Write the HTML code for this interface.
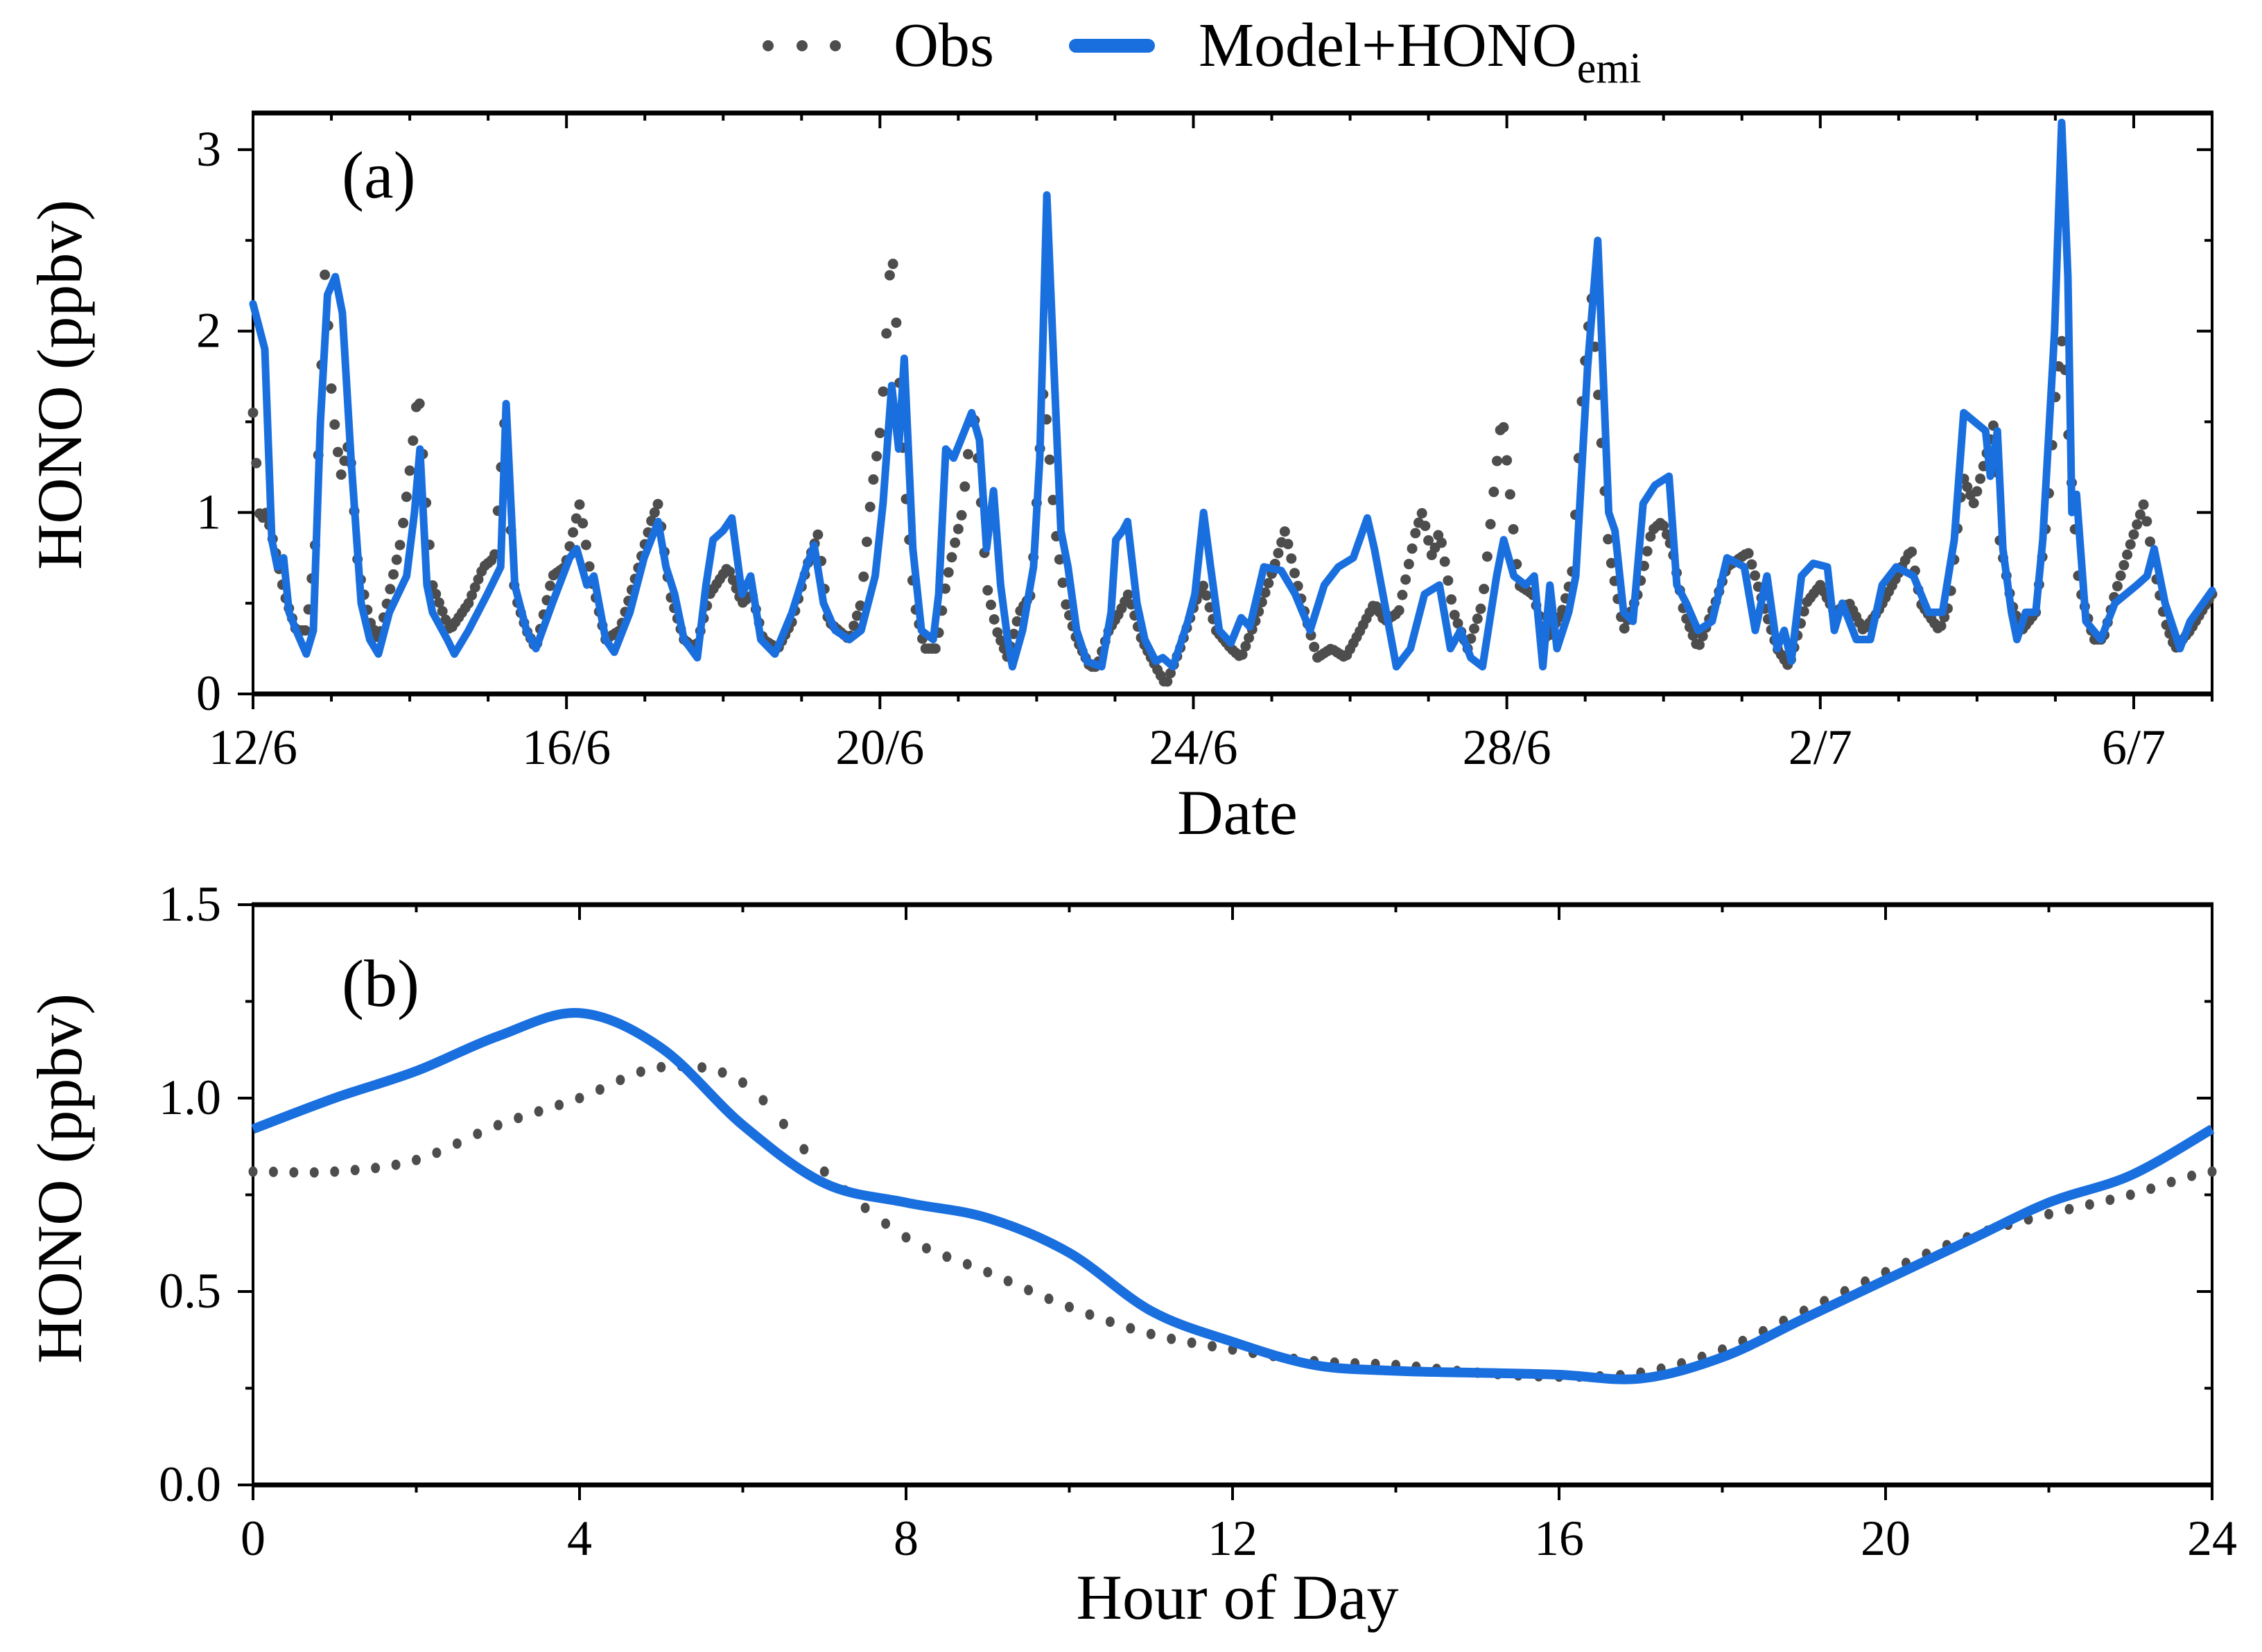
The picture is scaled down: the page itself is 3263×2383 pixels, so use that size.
<!DOCTYPE html>
<html><head><meta charset="utf-8"><style>
html,body{margin:0;padding:0;background:#fff;}
svg{display:block;font-family:"Liberation Serif",serif;}
</style></head><body>
<svg id="fig" width="3263" height="2383" viewBox="0 0 3263 2383" xmlns="http://www.w3.org/2000/svg">
<rect width="3263" height="2383" fill="#fff"/>
<g>
  <g>
    <circle cx="1108" cy="66" r="8" fill="#4d4d4d"/><circle cx="1157" cy="66" r="8" fill="#4d4d4d"/><circle cx="1205" cy="66" r="8" fill="#4d4d4d"/>
    <text x="1289" y="95" font-size="90" fill="#000">Obs</text>
  </g>
  <g>
    <line x1="1552" y1="66" x2="1656" y2="66" stroke="#1a6fdf" stroke-width="20" stroke-linecap="round"/>
    <text x="1729" y="95" font-size="90" fill="#000">Model+HONO<tspan font-size="62" dy="24">emi</tspan></text>
  </g>
</g>
<g id="pa"></g>
<g id="pb"></g>
</svg>
<script>
// ---------- Panel (a) data: time in days since 12/6 00:00 ----------
const aModelT = [0,0.15,0.24,0.31,0.39,0.46,0.55,0.68,0.77,0.86,0.95,1.05,1.14,1.25,1.38,1.49,1.60,1.74,1.96,2.06,2.13,2.22,2.29,2.48,2.57,2.75,2.99,3.16,3.23,3.34,3.49,3.61,3.82,4.04,4.13,4.26,4.35,4.50,4.61,4.81,4.99,5.17,5.27,5.38,5.50,5.67,5.78,5.87,6.00,6.11,6.24,6.35,6.48,6.66,6.88,7.06,7.16,7.28,7.43,7.61,7.76,7.94,8.04,8.15,8.24,8.31,8.42,8.53,8.68,8.75,8.84,8.94,9.08,9.17,9.27,9.36,9.45,9.54,9.63,9.69,9.82,9.96,10.04,10.13,10.22,10.31,10.40,10.51,10.64,10.83,10.95,11.01,11.10,11.16,11.28,11.38,11.52,11.61,11.74,11.93,12.02,12.13,12.22,12.33,12.48,12.61,12.72,12.90,13.12,13.30,13.49,13.67,13.85,14.04,14.22,14.31,14.44,14.59,14.77,14.95,15.14,15.28,15.41,15.54,15.69,15.87,15.96,16.09,16.24,16.35,16.46,16.55,16.64,16.79,16.88,17.03,17.16,17.30,17.38,17.49,17.61,17.74,17.89,18.07,18.17,18.29,18.44,18.62,18.81,19.03,19.17,19.32,19.45,19.54,19.63,19.76,19.91,20.09,20.18,20.28,20.46,20.64,20.79,20.97,21.19,21.38,21.56,21.71,21.83,22.11,22.17,22.26,22.33,22.44,22.51,22.62,22.75,22.84,22.99,23.08,23.16,23.21,23.27,23.39,23.58,23.76,24.04,24.17,24.26,24.40,24.59,24.72,25.0];
const aModelV = [2.15,1.9,0.85,0.7,0.75,0.45,0.35,0.22,0.35,1.5,2.2,2.3,2.1,1.3,0.5,0.3,0.22,0.45,0.65,1.0,1.35,0.6,0.45,0.3,0.22,0.35,0.55,0.7,1.6,0.6,0.35,0.25,0.5,0.75,0.8,0.6,0.65,0.3,0.23,0.45,0.75,0.95,0.7,0.55,0.3,0.2,0.6,0.85,0.9,0.97,0.55,0.65,0.3,0.22,0.45,0.7,0.82,0.5,0.35,0.3,0.35,0.65,1.05,1.7,1.35,1.85,0.8,0.35,0.3,0.55,1.35,1.3,1.45,1.55,1.4,0.8,1.12,0.6,0.3,0.15,0.35,0.7,1.3,2.75,1.8,0.9,0.7,0.35,0.18,0.15,0.45,0.85,0.9,0.95,0.5,0.3,0.18,0.2,0.15,0.4,0.55,1.0,0.7,0.35,0.28,0.42,0.37,0.7,0.68,0.55,0.35,0.6,0.7,0.75,0.97,0.8,0.5,0.15,0.25,0.55,0.6,0.25,0.35,0.2,0.15,0.65,0.85,0.65,0.6,0.65,0.15,0.6,0.25,0.45,0.65,1.8,2.5,1.0,0.9,0.45,0.4,1.05,1.15,1.2,0.6,0.5,0.35,0.4,0.75,0.7,0.35,0.65,0.25,0.35,0.18,0.65,0.72,0.7,0.35,0.5,0.3,0.3,0.6,0.7,0.65,0.45,0.45,0.85,1.55,1.45,1.2,1.45,0.8,0.45,0.3,0.45,0.45,0.85,2.0,3.15,2.3,1.0,1.1,0.4,0.3,0.5,0.6,0.65,0.8,0.5,0.25,0.4,0.57];
const aObsT = [0,0.09,0.17,0.28,0.40,0.55,0.68,0.79,0.92,1.01,1.12,1.23,1.34,1.49,1.60,1.71,1.89,2.02,2.11,2.20,2.29,2.51,2.75,2.94,3.08,3.21,3.34,3.49,3.61,3.82,3.98,4.17,4.31,4.50,4.68,4.92,5.08,5.17,5.32,5.50,5.65,5.83,6.06,6.24,6.37,6.51,6.70,6.88,7.10,7.21,7.34,7.61,7.76,7.89,8.02,8.15,8.24,8.31,8.44,8.57,8.72,8.84,8.94,9.05,9.19,9.27,9.36,9.49,9.63,9.78,9.93,10.09,10.24,10.37,10.51,10.68,10.77,10.92,11.06,11.17,11.34,11.52,11.65,11.83,12.02,12.13,12.29,12.48,12.61,12.79,13.03,13.17,13.30,13.45,13.58,13.76,13.94,14.13,14.31,14.44,14.62,14.84,14.92,15.05,15.14,15.32,15.50,15.69,15.83,15.94,16.02,16.15,16.33,16.51,16.70,16.83,16.97,17.08,17.19,17.30,17.49,17.67,17.85,17.98,18.11,18.26,18.44,18.66,18.81,19.08,19.27,19.45,19.60,19.82,20.00,20.18,20.37,20.55,20.73,20.92,21.16,21.28,21.52,21.65,21.82,21.96,22.11,22.22,22.29,22.44,22.57,22.75,22.90,23.01,23.10,23.17,23.30,23.49,23.61,23.76,23.94,24.13,24.26,24.40,24.53,24.72,25.0];
const aObsV = [1.55,0.95,1.0,0.8,0.55,0.35,0.35,0.8,2.35,1.6,1.2,1.4,0.7,0.4,0.3,0.5,0.85,1.3,1.7,1.1,0.6,0.35,0.5,0.7,0.75,1.5,0.55,0.35,0.25,0.65,0.7,1.05,0.65,0.3,0.35,0.7,0.95,1.05,0.55,0.3,0.25,0.55,0.7,0.5,0.55,0.3,0.25,0.4,0.75,0.88,0.4,0.3,0.5,1.1,1.5,2.5,1.8,1.2,0.5,0.25,0.25,0.6,0.8,1.0,1.6,1.2,0.6,0.35,0.2,0.45,0.55,1.7,0.9,0.5,0.3,0.15,0.15,0.35,0.45,0.55,0.3,0.15,0.05,0.25,0.5,0.6,0.35,0.25,0.2,0.4,0.7,0.9,0.65,0.4,0.2,0.25,0.2,0.35,0.5,0.4,0.45,0.9,1.0,0.75,0.9,0.45,0.25,0.5,1.1,1.55,1.2,0.6,0.55,0.3,0.45,0.65,1.7,2.2,1.5,0.8,0.35,0.55,0.9,0.95,0.8,0.45,0.25,0.5,0.7,0.78,0.5,0.25,0.15,0.5,0.6,0.45,0.5,0.35,0.45,0.6,0.8,0.5,0.35,0.5,1.2,1.05,1.3,1.5,0.85,0.5,0.35,0.45,1.0,1.7,2.0,1.4,0.6,0.3,0.3,0.55,0.8,1.05,0.7,0.4,0.25,0.35,0.55];
const aXTickLabels = ["12/6","16/6","20/6","24/6","28/6","2/7","6/7"];
const aYTickLabels = ["0","1","2","3"];

// ---------- Panel (b) data: hour of day ----------
const bHours = [0,1,2,3,4,5,6,7,8,9,10,11,12,13,14,15,16,17,18,19,20,21,22,23,24];
const bModel = [0.92,1.0,1.07,1.16,1.22,1.13,0.93,0.78,0.73,0.69,0.6,0.45,0.37,0.31,0.295,0.29,0.285,0.275,0.33,0.43,0.53,0.63,0.73,0.8,0.92];
const bObs = [0.81,0.81,0.84,0.93,1.0,1.08,1.04,0.81,0.64,0.55,0.46,0.39,0.35,0.32,0.31,0.29,0.28,0.29,0.35,0.45,0.55,0.64,0.7,0.75,0.81];
const bXTickLabels = ["0","4","8","12","16","20","24"];
const bYTickLabels = ["0.0","0.5","1.0","1.5"];

const NS = "http://www.w3.org/2000/svg";
function mk(tag, attrs, parent){const e=document.createElementNS(NS,tag);for(const k in attrs)e.setAttribute(k,attrs[k]);parent.appendChild(e);return e;}

const L=365, R=3191;
const ax = {xa:d=>L+(R-L)*d/25, ya:v=>1001-v*261.7, xb:h=>L+(R-L)*h/24, yb:v=>2142-v*558};

function interpLin(T,V,t){for(let i=0;i<T.length-1;i++){if(t<=T[i+1]){const f=(t-T[i])/(T[i+1]-T[i]);return V[i]+f*(V[i+1]-V[i]);}}return V[V.length-1];}
function catmull(P){let d="M"+P[0][0]+","+P[0][1];for(let i=0;i<P.length-1;i++){const p0=P[Math.max(i-1,0)],p1=P[i],p2=P[i+1],p3=P[Math.min(i+2,P.length-1)];
 d+=" C"+(p1[0]+(p2[0]-p0[0])/6)+","+(p1[1]+(p2[1]-p0[1])/6)+" "+(p2[0]-(p3[0]-p1[0])/6)+","+(p2[1]-(p3[1]-p1[1])/6)+" "+p2[0]+","+p2[1];}return d;}
function cmVal(X,Y,x){let i=0;while(i<X.length-2&&x>X[i+1])i++;const t=(x-X[i])/(X[i+1]-X[i]);const y0=Y[Math.max(i-1,0)],y1=Y[i],y2=Y[i+1],y3=Y[Math.min(i+2,Y.length-1)];
 return 0.5*((2*y1)+(-y0+y2)*t+(2*y0-5*y1+4*y2-y3)*t*t+(-y0+3*y1-3*y2+y3)*t*t*t);}

function frame(g, top, bot, xMajors, xMinors, yMajors, yMinors, xLabels, yLabels){
  const fg=mk('g',{stroke:'#000'},g);
  
  
  mk('line',{x1:L,y1:top,x2:L,y2:bot,'stroke-width':4},fg);
  mk('line',{x1:R,y1:top,x2:R,y2:bot,'stroke-width':4},fg);
  mk('line',{x1:L-2,y1:top,x2:R+2,y2:top,'stroke-width':7},fg);
  mk('line',{x1:L-2,y1:bot,x2:R+2,y2:bot,'stroke-width':7},fg);
  const tk=mk('g',{stroke:'#000','stroke-width':4},g);
  
  
  xMajors.forEach(x=>{mk('line',{x1:x,y1:bot,x2:x,y2:bot+22},tk);mk('line',{x1:x,y1:top,x2:x,y2:top+22},tk);});
  xMinors.forEach(x=>{mk('line',{x1:x,y1:bot,x2:x,y2:bot+11},tk);mk('line',{x1:x,y1:top,x2:x,y2:top+11},tk);});
  yMajors.forEach(y=>{mk('line',{x1:L,y1:y,x2:L-22,y2:y},tk);mk('line',{x1:R,y1:y,x2:R-22,y2:y},tk);});
  yMinors.forEach(y=>{mk('line',{x1:L,y1:y,x2:L-11,y2:y},tk);mk('line',{x1:R,y1:y,x2:R-11,y2:y},tk);});
  const xg=mk('g',{'font-size':72,'text-anchor':'middle'},g);
  
  
  xLabels.forEach((s,i)=>{const t=mk('text',{x:xMajors[i],y:bot+101},xg);t.textContent=s;});
  const yg=mk('g',{'font-size':72,'text-anchor':'end'},g);
  
  
  yLabels.forEach((s,i)=>{const t=mk('text',{x:319,y:yMajors[i]+23},yg);t.textContent=s;});
}

// ---- Panel a ----
(function(){
  const g=document.getElementById('pa');
  const xM=[],xm=[];for(let d=0;d<=25;d++){(d%4===0?xM:xm).push(ax.xa(d));}
  const yM=[],ym=[];for(let k=0;k<=6;k++){const v=k*0.5;(k%2===0?yM:ym).push(ax.ya(v));}
  frame(g,163,1001,xM,xm,yM,ym,aXTickLabels,aYTickLabels);
  const og=mk('g',{fill:'#4d4d4d'},g);
  
  
  for(let h=0;h<=600;h++){const d=h/24;const c=mk('circle',{cx:ax.xa(d),cy:ax.ya(interpLin(aObsT,aObsV,d)),r:7.5},og);
    
    }
  const pts=aModelT.map((t,i)=>ax.xa(t).toFixed(1)+","+ax.ya(aModelV[i]).toFixed(1)).join(" ");
  const ml=mk('polyline',{points:pts,fill:'none',stroke:'#1a6fdf','stroke-width':11,'stroke-linejoin':'round','stroke-linecap':'round'},g);
  
  
  const lab=mk('text',{x:493,y:285,'font-size':96},g);lab.textContent='(a)';
  
  
  const xt=mk('text',{x:1785,y:1203,'font-size':92,'text-anchor':'middle'},g);xt.textContent='Date';
  
  
  const yt=mk('text',{x:0,y:0,'font-size':92,'text-anchor':'middle',transform:'translate(117,555) rotate(-90)'},g);yt.textContent='HONO (ppbv)';
  
  
})();

// ---- Panel b ----
(function(){
  const g=document.getElementById('pb');
  const xM=[],xm=[];for(let h=0;h<=24;h+=2){(h%4===0?xM:xm).push(ax.xb(h));}
  const yM=[],ym=[];for(let k=0;k<=6;k++){const v=k*0.25;(k%2===0?yM:ym).push(ax.yb(v));}
  frame(g,1305,2142,xM,xm,yM,ym,bXTickLabels,bYTickLabels);
  const og=mk('g',{fill:'#4d4d4d'},g);
  
  
  for(let q=0;q<=96;q++){const h=q/4;const c=mk('ellipse',{cx:ax.xb(h),cy:ax.yb(cmVal(bHours,bObs,h)),rx:6.5,ry:7.5},og);
    
    }
  const P=bHours.map((h,i)=>[ax.xb(h),ax.yb(bModel[i])]);
  const ml=mk('path',{d:catmull(P),fill:'none',stroke:'#1a6fdf','stroke-width':14,'stroke-linecap':'butt'},g);
  
  
  const lab=mk('text',{x:493,y:1451,'font-size':96},g);lab.textContent='(b)';
  
  
  const xt=mk('text',{x:1785,y:2335,'font-size':92,'text-anchor':'middle'},g);xt.textContent='Hour of Day';
  
  
  const yt=mk('text',{x:0,y:0,'font-size':92,'text-anchor':'middle',transform:'translate(117,1700) rotate(-90)'},g);yt.textContent='HONO (ppbv)';
  
  
})();
</script>
</body></html>
